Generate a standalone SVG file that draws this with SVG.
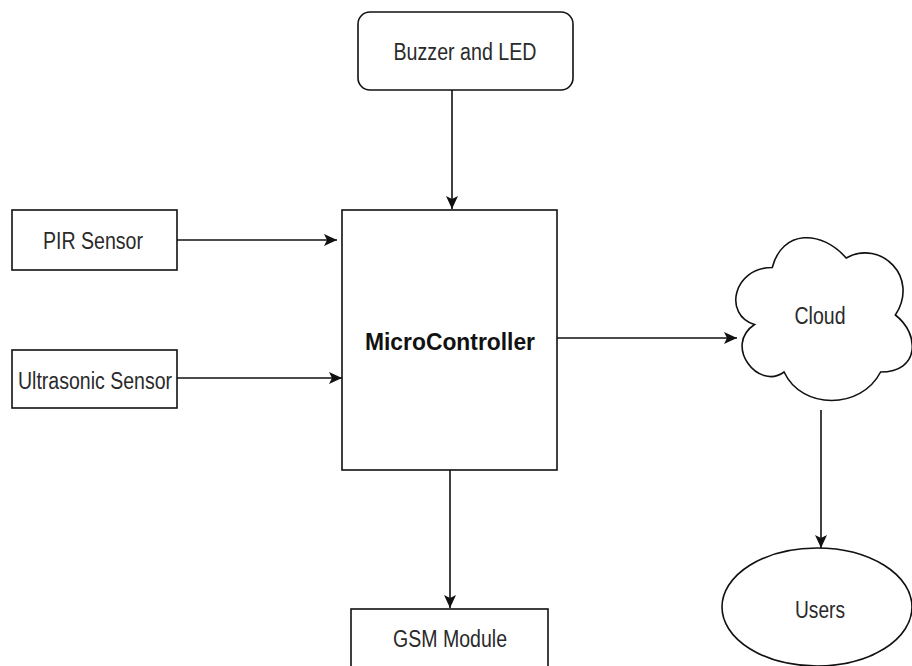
<svg xmlns="http://www.w3.org/2000/svg" width="912" height="666" viewBox="0 0 912 666">
  <style>
    .shape { fill: #ffffff; stroke: #111111; stroke-width: 1.6; }
    .label { font-family: "Liberation Sans", Arial, sans-serif; font-size: 23px; fill: #2a2a2a; text-anchor: middle; }
    .bold { font-weight: bold; font-size: 24px; fill: #111111; }
    .edge { fill: none; stroke: #111111; stroke-width: 1.6; }
  </style>
  <defs>
    <marker id="arrow" markerUnits="userSpaceOnUse" markerWidth="14" markerHeight="14" refX="13" refY="6" orient="auto">
      <path d="M0,0 L13,6 L0,12 L3,6 Z" fill="#111111"/>
    </marker>
  </defs>
  <rect width="912" height="666" fill="#ffffff"/>

  <!-- connectors -->
  <g id="connectors">
    <line class="edge" x1="452" y1="90" x2="452" y2="209" marker-end="url(#arrow)"/>
    <line class="edge" x1="177" y1="240" x2="337" y2="240" marker-end="url(#arrow)"/>
    <line class="edge" x1="177" y1="378" x2="342" y2="378" marker-end="url(#arrow)"/>
    <line class="edge" x1="557" y1="338" x2="737" y2="338" marker-end="url(#arrow)"/>
    <line class="edge" x1="450" y1="470" x2="450" y2="608" marker-end="url(#arrow)"/>
    <line class="edge" x1="821" y1="410" x2="821" y2="548" marker-end="url(#arrow)"/>
  </g>

  <!-- nodes -->
  <g id="buzzer-led">
    <rect class="shape" x="358" y="12" width="215" height="78" rx="12" ry="12"/>
    <text class="label" x="465" y="60" textLength="143" lengthAdjust="spacingAndGlyphs">Buzzer and LED</text>
  </g>

  <g id="pir-sensor">
    <rect class="shape" x="12" y="210" width="165" height="60"/>
    <text class="label" x="93" y="249" textLength="100" lengthAdjust="spacingAndGlyphs">PIR Sensor</text>
  </g>

  <g id="ultrasonic-sensor">
    <rect class="shape" x="12" y="350" width="165" height="58"/>
    <text class="label" x="95" y="389" textLength="154" lengthAdjust="spacingAndGlyphs">Ultrasonic Sensor</text>
  </g>

  <g id="microcontroller">
    <rect class="shape" x="342" y="210" width="215" height="260"/>
    <text class="label bold" x="450" y="350" textLength="170" lengthAdjust="spacingAndGlyphs">MicroController</text>
  </g>

  <g id="cloud">
    <!-- cloud outline in a 197 x 190 frame at (723, 220) -->
    <path class="shape" d="M772.25,267.5 C732.85,267.5 723,315 754.52,324.5 C723,345.4 758.46,391 784.07,372 C801.8,410 860.9,410 880.6,372 C920,372 920,334 895.38,315 C920,277 880.6,239 846.13,258 C821.5,229.5 782.1,229.5 772.25,267.5 Z"/>
    <text class="label" x="820" y="324" textLength="51" lengthAdjust="spacingAndGlyphs">Cloud</text>
  </g>

  <g id="gsm-module">
    <rect class="shape" x="351" y="609" width="197" height="80"/>
    <text class="label" x="450" y="647" textLength="114" lengthAdjust="spacingAndGlyphs">GSM Module</text>
  </g>

  <g id="users">
    <ellipse class="shape" cx="817" cy="607" rx="95" ry="59"/>
    <text class="label" x="820" y="618" textLength="50" lengthAdjust="spacingAndGlyphs">Users</text>
  </g>
</svg>
